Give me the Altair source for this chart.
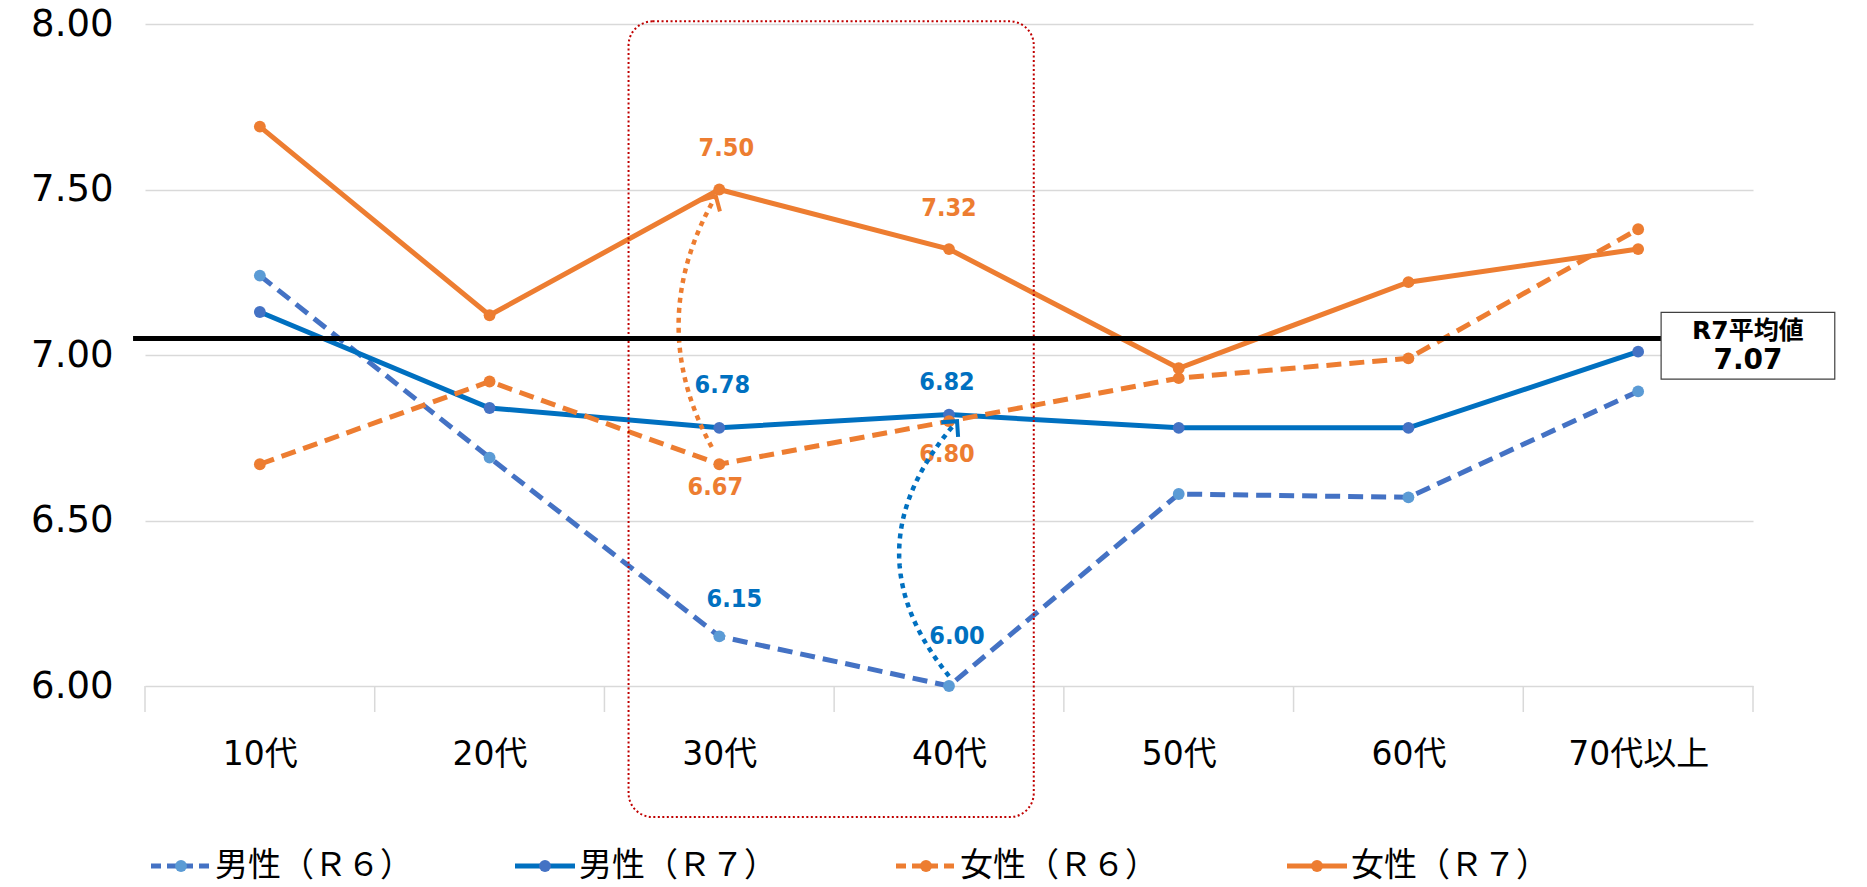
import math
import altair as alt
import pandas as pd

# ---------------- data ----------------
categories = ["10代", "20代", "30代", "40代", "50代", "60代", "70代以上"]
series_names = ["男性（Ｒ６）", "男性（Ｒ７）", "女性（Ｒ６）", "女性（Ｒ７）"]
male_r6 = [7.24, 6.69, 6.15, 6.00, 6.58, 6.57, 6.89]
male_r7 = [7.13, 6.84, 6.78, 6.82, 6.78, 6.78, 7.01]
female_r6 = [6.67, 6.92, 6.67, 6.80, 6.93, 6.99, 7.38]
female_r7 = [7.69, 7.12, 7.50, 7.32, 6.96, 7.22, 7.32]
series_values = [male_r6, male_r7, female_r6, female_r7]
avg_r7 = 7.07
avg_line_value = 7.05
avg_title = "R7平均値"
y_ticks = [6.0, 6.5, 7.0, 7.5, 8.0]

# ---------------- styles ----------------
W, H = 1608, 662
YMIN, YMAX = 6.0, 8.0
PX_X = W / 7.0
PX_Y = H / (YMAX - YMIN)
line_colors = ["#4472C4", "#0070C0", "#ED7D31", "#ED7D31"]
marker_colors = ["#5B9BD5", "#4472C4", "#ED7D31", "#ED7D31"]
dashes = [[15, 8], None, [15, 8], None]
label_colors = ["#0070C0", "#0070C0", "#ED7D31", "#ED7D31"]
LABEL_FONT = "Liberation Sans Narrow, DejaVu Sans Condensed, Roboto Condensed, Liberation Sans"
MIXED = "DejaVu Sans, Noto Sans CJK JP"
CJK = "Noto Sans CJK JP"

xscale = alt.Scale(domain=[-0.5, 6.5], nice=False, zero=False)
yscale = alt.Scale(domain=[YMIN, YMAX], nice=False, zero=False)

label_expr = "[" + ",".join("'%s'" % c for c in categories) + "][datum.value]"

one = pd.DataFrame({"a": [0]})

layers = []

# invisible base carrying the axes
base_df = pd.DataFrame({"x": list(range(7)), "y": female_r7})
axes_layer = alt.Chart(base_df).mark_point(opacity=0).encode(
    x=alt.X("x:Q", scale=xscale, axis=alt.Axis(
        values=list(range(7)), labelExpr=label_expr, grid=False, domain=False,
        ticks=False, tickSize=0, labelPadding=68, labelBaseline="middle",
        labelFont=MIXED, labelFontSize=33, labelColor="#000000", title=None)),
    y=alt.Y("y:Q", scale=yscale, axis=alt.Axis(
        values=y_ticks, format=".2f", grid=True, gridColor="#d9d9d9", gridWidth=1.5,
        domain=False, ticks=False, tickSize=0, labelPadding=32,
        labelFont="Verdana, DejaVu Sans", labelFontSize=37, labelColor="#000000",
        title=None)),
)
layers.append(axes_layer)

# category boundary tick marks below baseline
bounds = pd.DataFrame({"b": [i - 0.5 for i in range(len(categories) + 1)]})
layers.append(alt.Chart(bounds).mark_rule(color="#d9d9d9", strokeWidth=1.5).encode(
    x=alt.X("b:Q", scale=xscale), y=alt.datum(YMIN), y2=alt.value(H + 26)))

# series
for s, (name, vals) in enumerate(zip(series_names, series_values)):
    df = pd.DataFrame({"x": list(range(7)), "v": vals})
    lk = dict(color=line_colors[s], strokeWidth=5)
    if dashes[s]:
        lk["strokeDash"] = dashes[s]
    layers.append(alt.Chart(df).mark_line(**lk).encode(
        x=alt.X("x:Q", scale=xscale), y=alt.Y("v:Q", scale=yscale)))
    layers.append(alt.Chart(df).mark_point(filled=True, size=140, opacity=1,
                                           color=marker_colors[s]).encode(
        x=alt.X("x:Q", scale=xscale), y=alt.Y("v:Q", scale=yscale)))

# data labels (series, category, dx, dy)
label_specs = [(3, 2, 7, -42), (3, 3, 0, -41), (1, 2, 3, -43), (1, 3, -2, -33),
               (2, 2, -4, 23), (2, 3, -2, 33), (0, 2, 15, -37), (0, 3, 8, -50)]
for s, c, dx, dy in label_specs:
    v = series_values[s][c]
    df = pd.DataFrame({"x": [c], "v": [v], "t": ["%.2f" % v]})
    layers.append(alt.Chart(df).mark_text(
        font=LABEL_FONT, fontSize=25, fontWeight="bold", color=label_colors[s],
        dx=dx, dy=dy, align="center", baseline="middle").encode(
        x=alt.X("x:Q", scale=xscale), y=alt.Y("v:Q", scale=yscale), text="t:N"))

# curved dotted arrows (start, control, end)
arrows = [
    ((1.967, 6.722), (1.670, 7.10), (1.985, 7.48), "#ED7D31"),
    ((3.000, 6.030), (2.549, 6.415), (3.035, 6.80), "#0070C0"),
]
for p0, p1, p2, col in arrows:
    n = 60
    pts = []
    for i in range(n + 1):
        t = i / n
        x = (1 - t) ** 2 * p0[0] + 2 * (1 - t) * t * p1[0] + t ** 2 * p2[0]
        y = (1 - t) ** 2 * p0[1] + 2 * (1 - t) * t * p1[1] + t ** 2 * p2[1]
        pts.append({"i": i, "x": x, "y": y})
    layers.append(alt.Chart(pd.DataFrame(pts)).mark_line(
        color=col, strokeWidth=4.5, strokeDash=[5, 5]).encode(
        x=alt.X("x:Q", scale=xscale), y=alt.Y("y:Q", scale=yscale), order="i:Q"))
    dxp = (p2[0] - p1[0]) * PX_X
    dup = (p2[1] - p1[1]) * PX_Y
    ang = math.degrees(math.atan2(dxp, dup)) % 360
    layers.append(alt.Chart(pd.DataFrame({"x": [p2[0]], "y": [p2[1]]})).mark_point(
        shape="M-1,1L0,0L1,1", filled=False, stroke=col, strokeWidth=4,
        size=500, angle=ang, opacity=1).encode(
        x=alt.X("x:Q", scale=xscale), y=alt.Y("y:Q", scale=yscale)))

# red dotted rounded rectangle around 30代-40代
layers.append(alt.Chart(one).mark_rect(
    fillOpacity=0, stroke="#C00000", strokeWidth=2, strokeDash=[2, 2.5],
    cornerRadius=24).encode(
    x=alt.datum(1.605), x2=alt.datum(3.369), y=alt.datum(8.008), y2=alt.datum(5.604)))

# average line and box
layers.append(alt.Chart(one).mark_rule(color="#000000", strokeWidth=5).encode(
    x=alt.datum(-0.552), x2=alt.datum(6.10), y=alt.datum(avg_line_value)))
layers.append(alt.Chart(one).mark_rect(
    fill="#ffffff", stroke="#404040", strokeWidth=1.2).encode(
    x=alt.datum(6.10), x2=alt.datum(6.856), y=alt.datum(7.129), y2=alt.datum(6.927)))
box_df = pd.DataFrame({"x": [6.478, 6.478], "y": [7.028, 7.028],
                       "t": [avg_title, "%.2f" % avg_r7], "k": [0, 1]})
layers.append(alt.Chart(box_df).transform_filter("datum.k == 0").mark_text(
    font=MIXED, fontSize=25, fontWeight="bold", color="#000000", dy=-15,
    baseline="middle").encode(
    x=alt.X("x:Q", scale=xscale), y=alt.Y("y:Q", scale=yscale), text="t:N"))
layers.append(alt.Chart(box_df).transform_filter("datum.k == 1").mark_text(
    font="Verdana, DejaVu Sans", fontSize=28, fontWeight="bold", color="#000000",
    dy=15, baseline="middle").encode(
    x=alt.X("x:Q", scale=xscale), y=alt.Y("y:Q", scale=yscale), text="t:N"))

# legend (manual, below the chart)
legend_x = [6, 370, 751, 1142]
LEG_Y = 842
for s, name in enumerate(series_names):
    lx = legend_x[s]
    rk = dict(color=line_colors[s], strokeWidth=5)
    if dashes[s]:
        rk["strokeDash"] = [10, 6]
    layers.append(alt.Chart(one).mark_rule(**rk).encode(
        x=alt.value(lx), x2=alt.value(lx + 60), y=alt.value(LEG_Y)))
    layers.append(alt.Chart(one).mark_point(filled=True, size=140, opacity=1,
                                            color=marker_colors[s]).encode(
        x=alt.value(lx + 30), y=alt.value(LEG_Y)))
    layers.append(alt.Chart(pd.DataFrame({"t": [name]})).mark_text(
        font=CJK, fontSize=33, color="#000000", align="left", baseline="middle").encode(
        x=alt.value(lx + 64), y=alt.value(LEG_Y), text="t:N"))

chart = alt.layer(*layers).properties(
    width=W, height=H,
    autosize=alt.AutoSizeParams(type="none"),
    padding={"left": 137, "top": 16, "right": 100, "bottom": 200},
).configure_view(stroke=None)

chart.save("out.html", embed_options={"renderer": "svg", "actions": False})
